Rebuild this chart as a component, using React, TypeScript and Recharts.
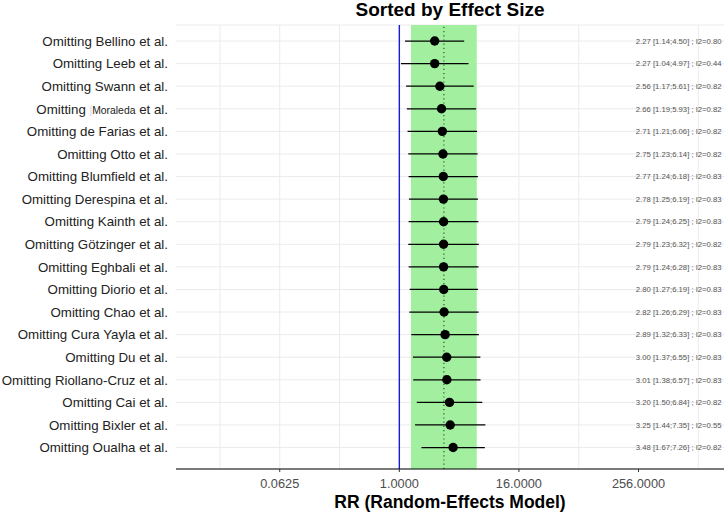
import React from "react";
import {
  ComposedChart,
  Scatter,
  ErrorBar,
  XAxis,
  YAxis,
  CartesianGrid,
  ReferenceLine,
  ReferenceArea,
} from "recharts";

const studies = [
  "Bellino", "Leeb", "Swann", "Moraleda", "de Farias", "Otto", "Blumfield",
  "Derespina", "Kainth", "Götzinger", "Eghbali", "Diorio", "Chao", "Cura Yayla",
  "Du", "Riollano-Cruz", "Cai", "Bixler", "Oualha",
];
const rr = [2.27, 2.27, 2.56, 2.66, 2.71, 2.75, 2.77, 2.78, 2.79, 2.79, 2.79, 2.8, 2.82, 2.89, 3.0, 3.01, 3.2, 3.25, 3.48];
const lower = [1.14, 1.04, 1.17, 1.19, 1.21, 1.23, 1.24, 1.25, 1.24, 1.23, 1.24, 1.27, 1.26, 1.32, 1.37, 1.38, 1.5, 1.44, 1.67];
const upper = [4.5, 4.97, 5.61, 5.93, 6.06, 6.14, 6.18, 6.19, 6.25, 6.32, 6.28, 6.19, 6.29, 6.33, 6.55, 6.57, 6.84, 7.35, 7.26];
const i2 = [0.8, 0.44, 0.82, 0.82, 0.82, 0.82, 0.83, 0.83, 0.83, 0.82, 0.83, 0.83, 0.83, 0.83, 0.83, 0.83, 0.82, 0.55, 0.82];

const pooled = 2.81;
const pooledCI = [1.31, 6.02];
const majorTicks = [0.0625, 1, 16, 256];
const gridTicks = [0.015625, 0.0625, 0.25, 1, 4, 16, 64, 256, 1024];
const labelX = 650;
const xDomain = [0.00564, 1858];

const rows = studies.map((s, i) => ({
  idx: i,
  name: s,
  rr: rr[i],
  err: [rr[i] - lower[i], upper[i] - rr[i]],
}));

// annotation rows sit at a fixed RR position on the right of the panel
const labelRows = studies.map((s, i) => ({
  idx: i,
  rr: labelX,
  text: `${rr[i].toFixed(2)} [${lower[i].toFixed(2)};${upper[i].toFixed(2)}] ; I2=${i2[i].toFixed(2)}`,
}));

const font = "'Liberation Sans', Arial, sans-serif";

const YTick = (props: any) => {
  const { x, y, payload } = props;
  const name = studies[payload.value];
  if (name === undefined) return null;
  if (name === "Moraleda") {
    return (
      <text x={x} y={y} dy="0.36em" textAnchor="end" fontSize={13.3} fill="#222" fontFamily={font}>
        <tspan>Omitting </tspan>
        <tspan fontSize={10} fill="#d0d0d0">|</tspan>
        <tspan fontSize={10.4}>Moraleda</tspan>
        <tspan> et al.</tspan>
      </text>
    );
  }
  return (
    <text x={x} y={y} dy="0.36em" textAnchor="end" fontSize={13.3} fill="#222" fontFamily={font}>
      {`Omitting ${name} et al.`}
    </text>
  );
};

const Dot = (props: any) => <circle cx={props.cx} cy={props.cy} r={4.7} fill="#000" />;

const RowText = (props: any) => (
  <text
    x={props.cx}
    y={props.cy}
    dy="0.36em"
    textAnchor="middle"
    fontSize={7.7}
    fill="#555"
    fontFamily={font}
  >
    {props.payload.text}
  </text>
);

export default function App() {
  return (
    <div style={{ position: "absolute", left: 0, top: 0, width: 725, height: 513, background: "#fff", fontFamily: font }}>
      <div
        style={{
          position: "absolute",
          top: 0,
          left: 176,
          width: 548,
          textAlign: "center",
          fontSize: 19,
          lineHeight: "19px",
          fontWeight: "bold",
          color: "#000",
        }}
      >
        Sorted by Effect Size
      </div>
      <ComposedChart width={725} height={513} data={rows} margin={{ top: 25, right: 1, bottom: 0, left: 0 }}>
        <CartesianGrid stroke="#ebebeb" verticalValues={gridTicks} />
        <ReferenceArea x1={pooledCI[0]} x2={pooledCI[1]} fill="#a2efa0" fillOpacity={1} stroke="none" />
        <ReferenceLine x={1} stroke="#1c1cd8" strokeWidth={1.4} />
        <ReferenceLine x={pooled} stroke="#245c24" strokeWidth={1.2} strokeDasharray="1.2 3" />
        <XAxis
          dataKey="rr"
          type="number"
          scale="log"
          domain={xDomain}
          ticks={majorTicks}
          allowDataOverflow
          tickFormatter={(v: number) => v.toFixed(4)}
          tick={{ fontSize: 12.75, fill: "#4d4d4d", fontFamily: font }}
          tickSize={3}
          tickMargin={7}
          axisLine={{ stroke: "#000", strokeWidth: 1.2 }}
          tickLine={{ stroke: "#333" }}
          height={44}
          label={{
            value: "RR (Random-Effects Model)",
            position: "insideBottom",
            offset: 5,
            style: { fontSize: 17.5, fontWeight: "bold", fill: "#000", fontFamily: font },
          }}
        />
        <YAxis
          dataKey="idx"
          type="number"
          reversed
          domain={[-0.71, 18.95]}
          ticks={studies.map((_, i) => i)}
          interval={0}
          width={176}
          axisLine={false}
          tickLine={false}
          tickSize={0}
          tickMargin={8}
          tick={<YTick />}
        />
        <Scatter data={rows} dataKey="rr" shape={<Dot />} isAnimationActive={false}>
          <ErrorBar dataKey="err" direction="x" width={0} stroke="#000" strokeWidth={1.3} />
        </Scatter>
        <Scatter data={labelRows} dataKey="rr" shape={<RowText />} isAnimationActive={false} />
      </ComposedChart>
    </div>
  );
}
